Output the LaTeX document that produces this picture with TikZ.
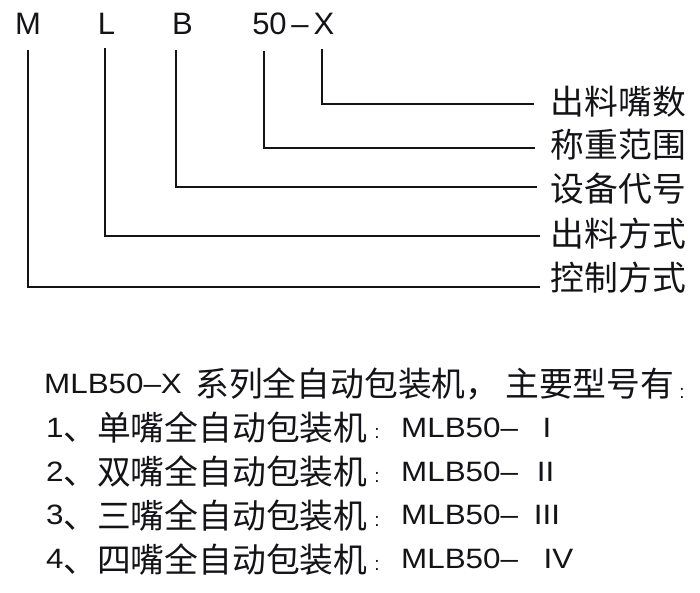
\documentclass[tikz,border=0pt]{standalone}
\usepackage{fontspec}
\setmainfont{Liberation Sans}
\newfontfamily\cjk{Noto Sans CJK SC}
\newfontfamily\latw[FakeStretch=1.12]{Liberation Sans}
\definecolor{ink}{HTML}{141418}
\begin{document}
\begin{tikzpicture}[x=1bp,y=-1bp]
\tikzset{
  cj/.style={font=\cjk\fontsize{33.8bp}{40bp}\selectfont, inner sep=0pt, anchor=west, text=ink},
  la/.style={font=\latw\fontsize{28bp}{34bp}\selectfont, inner sep=0pt, anchor=base west, text=ink},
  codechar/.style={font=\fontsize{31bp}{36bp}\selectfont, inner sep=0pt, anchor=base, text=ink},
  colonmark/.style={font=\fontsize{19bp}{22bp}\selectfont, inner sep=0pt, anchor=base, text=ink},
  lead/.style={draw=ink, line width=1.4bp},
}
\useasboundingbox (0,0) rectangle (700,593);
\fill[white] (0,0) rectangle (700,593);

% code letters
\node[codechar] (cM) at (28,35) {M};
\node[codechar] (cL) at (106.5,35) {L};
\node[codechar] (cB) at (182.5,35) {B};
\node[codechar] (c50) at (269.5,35) {50};
\node[codechar] (cdash) at (300,35) {–};
\node[codechar] (cX) at (324,35) {X};

% labels
\node[cj] (lX) at (550.5,102) {出料嘴数};
\node[cj] (l50) at (550.5,145) {称重范围};
\node[cj] (lB) at (550.5,189) {设备代号};
\node[cj] (lL) at (550.5,234) {出料方式};
\node[cj] (lM) at (550.5,278) {控制方式};

% leader coordinates
\coordinate (tX) at (322,49);   \coordinate (eX) at (534,104);
\coordinate (t50) at (264,51);  \coordinate (e50) at (535,148);
\coordinate (tB) at (176,50);   \coordinate (eB) at (537,187);
\coordinate (tL) at (105,48);   \coordinate (eL) at (540,236);
\coordinate (tM) at (28,50);    \coordinate (eM) at (540,287);

\draw[lead] (tX) |- (eX);
\draw[lead] (t50) |- (e50);
\draw[lead] (tB) |- (eB);
\draw[lead] (tL) |- (eL);
\draw[lead] (tM) |- (eM);

% bottom text
\node[la] (h1) at (44,393) {MLB50–X};
\node[cj] (h2) at (195,384) {系列全自动包装机，};
\node[cj] (h3) at (505,384) {主要型号有};
\node[colonmark] (hc) at (682,398) {:};

\node[la] (n1) at (46,437) {1};
\node[cj] (t1) at (63,428) {、单嘴全自动包装机};
\node[colonmark] (k1) at (377,438) {:};
\node[la] (m1) at (401,437) {MLB50–};
\node[la,anchor=base] (r1) at (547,437) {I};

\node[la] (n2) at (46,481) {2};
\node[cj] (t2) at (63,472) {、双嘴全自动包装机};
\node[colonmark] (k2) at (377,482) {:};
\node[la] (m2) at (401,481) {MLB50–};
\node[la,anchor=base] (r2) at (545.5,481) {II};

\node[la] (n3) at (46,524) {3};
\node[cj] (t3) at (63,516) {、三嘴全自动包装机};
\node[colonmark] (k3) at (377,526) {:};
\node[la] (m3) at (401,524) {MLB50–};
\node[la,anchor=base] (r3) at (547,524) {III};

\node[la] (n4) at (46,568) {4};
\node[cj] (t4) at (63,560) {、四嘴全自动包装机};
\node[colonmark] (k4) at (377,570) {:};
\node[la] (m4) at (401,568) {MLB50–};
\node[la,anchor=base] (r4) at (558.5,568) {IV};
\end{tikzpicture}
\end{document}
